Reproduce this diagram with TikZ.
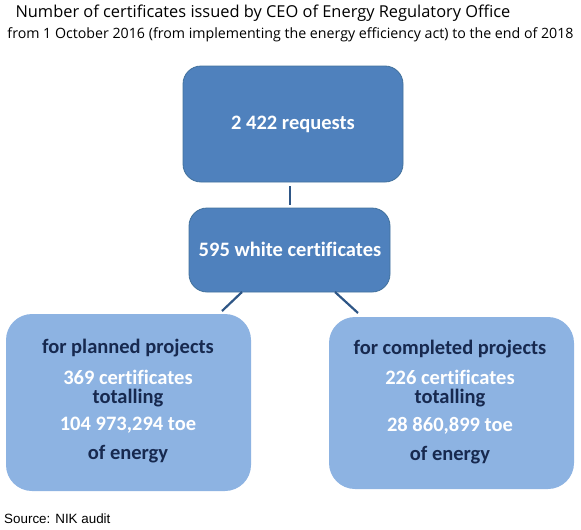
\documentclass[tikz,border=0pt]{standalone}
\usepackage{fontspec}
\setmainfont[Ligatures=NoCommon]{Carlito}
\newfontfamily\titlefont{Open Sans}
\newfontfamily\srcfont{Liberation Sans}
\definecolor{boxdark}{HTML}{4F81BD}
\definecolor{boxdarkline}{HTML}{41719C}
\definecolor{boxlight}{HTML}{8DB3E2}
\definecolor{navy}{HTML}{17294F}
\definecolor{linkcol}{HTML}{2E5686}
\begin{document}
\begin{tikzpicture}[x=1pt,y=-1pt,
  darkbox/.style={draw=boxdarkline,line width=0.8pt,fill=boxdark,rounded corners=18pt},
  lightbox/.style={fill=boxlight,rounded corners=26pt},
  wtxt/.style={text=white,font=\bfseries\fontsize{20.5}{22}\selectfont},
  ntxt/.style={text=navy,font=\bfseries\fontsize{20.5}{22}\selectfont},
  link/.style={draw=linkcol,line width=2.2pt}]
\useasboundingbox (0,0) rectangle (581,530);
\node[font=\titlefont\fontsize{16.4}{19}\selectfont,text=black] (title) at (263,13) {Number of certificates issued by CEO of Energy Regulatory Office};
\node[font=\titlefont\fontsize{14.2}{16}\selectfont,text=black] (sub) at (290.5,35) {from 1 October 2016 (from implementing the energy efficiency act) to the end of 2018};
% boxes
\path[darkbox] (183,66) rectangle (403,182);
\node[wtxt] (req) at (293,124) {2 422 requests};
\coordinate (reqb) at (290,186);
\coordinate (whtt) at (290,205);
\path[darkbox] (189,208) rectangle (390,292);
\node[wtxt] (wht) at (290,249) {595 white certificates};
\path[lightbox] (6,314) rectangle (251,491);
\path[lightbox] (329,317) rectangle (574,489);
\coordinate (wl) at (242,292);
\coordinate (pl) at (222,311);
\coordinate (wr) at (335,292);
\coordinate (pr) at (358,313);
\draw[link] (reqb) -- (whtt);
\draw[link] (wl) -- (pl);
\draw[link] (wr) -- (pr);
% left texts
\node[ntxt] (l1) at (128,348) {for planned projects};
\node[wtxt] (l2) at (128,377) {369 certificates};
\node[ntxt] (l3) at (128,398) {totalling};
\node[wtxt] (l4) at (128,425) {104 973,294 toe};
\node[ntxt] (l5) at (128,454) {of energy};
% right texts
\node[ntxt] (r1) at (450,349) {for completed projects};
\node[wtxt] (r2) at (450,377) {226 certificates};
\node[ntxt] (r3) at (450,398) {totalling};
\node[wtxt] (r4) at (450,426) {28 860,899 toe};
\node[ntxt] (r5) at (450,455) {of energy};
\node[font=\srcfont\fontsize{13.4}{15}\selectfont,anchor=west,inner sep=0pt,text=black] (src) at (4,519) {Source: NIK audit};
\end{tikzpicture}
\end{document}
